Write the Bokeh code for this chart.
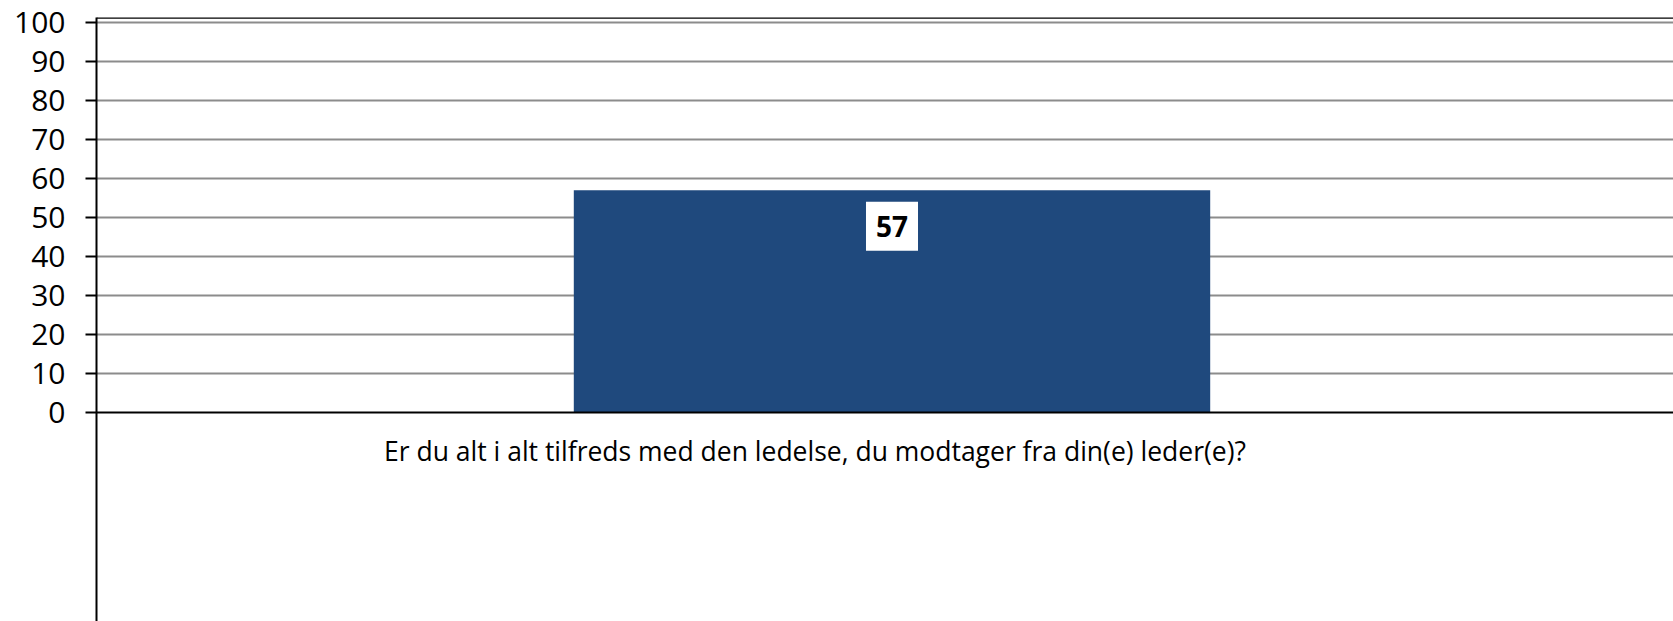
import numpy as np
from bokeh.plotting import figure
from bokeh.models import Range1d, FixedTicker, Span, ColumnDataSource
from bokeh.core.properties import value
from bokeh.embed import file_html
from bokeh.resources import INLINE

categories = ["Er du alt i alt tilfreds med den ledelse, du modtager fra din(e) leder(e)?"]
values = [57]
y_ticks = [0, 10, 20, 30, 40, 50, 60, 70, 80, 90, 100]

FONT = "Open Sans"
Y_TOP = 101.3
Y_BOTTOM = -53.6

xs = list(range(len(categories)))
src = ColumnDataSource(dict(x=xs, top=values, label=[str(v) for v in values],
                            zero=[0] * len(xs), cat=categories))

p = figure(width=1673, height=621, output_backend="svg", toolbar_location=None,
           x_range=Range1d(-0.5, 0.4912), y_range=Range1d(Y_BOTTOM, Y_TOP),
           min_border_left=96, min_border_top=17, min_border_right=0, min_border_bottom=0)
p.outline_line_color = None
p.background_fill_color = "white"

p.vbar(x="x", top="top", bottom=0, width=0.4, source=src, fill_color="#1F497D", line_color=None)

p.text(x="x", y="top", text="label", source=src, text_align="center", text_baseline="middle",
       y_offset=36, text_font=value(FONT), text_font_style="bold", text_font_size="28px",
       text_color="black", background_fill_color="white",
       padding=dict(left=10, right=10, top=14, bottom=14))

# category label below the zero line
p.text(x="x", y="zero", text="cat", source=src, text_align="center", text_baseline="top",
       x_offset=-77, y_offset=21, text_font=value(FONT), text_font_size="26.5px",
       text_color="black")

# y axis
p.yaxis.ticker = FixedTicker(ticks=y_ticks)
p.yaxis.axis_line_color = "black"
p.yaxis.axis_line_width = 2
p.yaxis.major_tick_line_color = "black"
p.yaxis.major_tick_line_width = 2
p.yaxis.major_tick_out = 11
p.yaxis.major_tick_in = 0
p.yaxis.minor_tick_line_color = None
p.yaxis.major_label_text_font = FONT
p.yaxis.major_label_text_font_size = "30px"
p.yaxis.major_label_text_color = "black"
p.yaxis.major_label_standoff = 20

p.ygrid.ticker = FixedTicker(ticks=y_ticks[1:])
p.ygrid.grid_line_color = "#8C8C8C"
p.ygrid.grid_line_width = 2
p.xgrid.grid_line_color = None

# x axis line at zero
p.xaxis.fixed_location = 0
p.xaxis.ticker = FixedTicker(ticks=xs)
p.xaxis.major_label_text_font_size = "0px"
p.xaxis.major_label_text_color = None
p.xaxis.axis_line_color = "black"
p.xaxis.axis_line_width = 2
p.xaxis.major_tick_line_color = None
p.xaxis.minor_tick_line_color = None

p.add_layout(Span(location=Y_TOP - 0.05, dimension="width", line_color="black", line_width=2))

open("out.html", "w").write(file_html(p, INLINE))
